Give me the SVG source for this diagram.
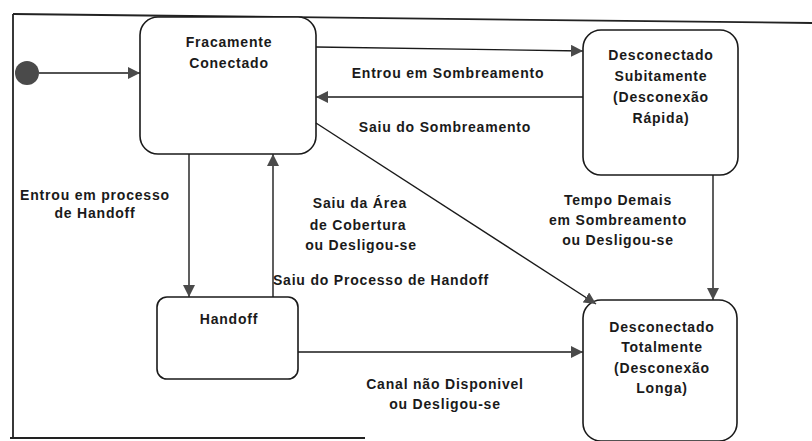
<svg xmlns="http://www.w3.org/2000/svg" width="812" height="441" viewBox="0 0 812 441">
<style>
.node{fill:#fff;stroke:#1a1a1a;stroke-width:1.6}
.conn{fill:none;stroke:#1a1a1a;stroke-width:1.4}
.frame{fill:none;stroke:#222;stroke-width:1.8}
text{font-family:"Liberation Sans",Arial,sans-serif;font-weight:bold;font-size:14px;letter-spacing:0.8px;fill:#1a1a1a;text-anchor:middle}
</style>
<defs>
<marker id="arr" viewBox="0 0 12 12" refX="12" refY="6" markerWidth="12" markerHeight="12" markerUnits="userSpaceOnUse" orient="auto">
<path d="M0,0 L12,6 L0,12 z" fill="#4a4a4a"/>
</marker>
</defs>
<rect width="812" height="441" fill="#fff"/>
<g id="frame">
<path class="frame" d="M13,14 L812,23"/>
<path class="frame" d="M13,14 L13,438"/>
<path class="frame" d="M10,438 L365,438"/>
</g>
<g id="initial">
<circle cx="27" cy="73" r="12" fill="#4a4a4a"/>
</g>
<g id="fracamente">
<rect class="node" x="140" y="17" width="176" height="137" rx="18"/>
<text x="229" y="47">Fracamente</text>
<text x="229" y="68">Conectado</text>
</g>
<g id="subitamente">
<rect class="node" x="583" y="30" width="155" height="145" rx="18"/>
<text x="661" y="60">Desconectado</text>
<text x="661" y="81">Subitamente</text>
<text x="661" y="102">(Desconexão</text>
<text x="661" y="123">Rápida)</text>
</g>
<g id="handoff">
<rect class="node" x="157" y="297" width="141" height="82" rx="10"/>
<text x="229" y="324">Handoff</text>
</g>
<g id="totalmente">
<rect class="node" x="583" y="300" width="154" height="141" rx="18"/>
<text x="662" y="332">Desconectado</text>
<text x="662" y="352">Totalmente</text>
<text x="662" y="373">(Desconexão</text>
<text x="662" y="393">Longa)</text>
</g>
<g id="connectors">
<path class="conn" d="M39,73 L140,73" marker-end="url(#arr)"/>
<path class="conn" d="M316,47 L583,51" marker-end="url(#arr)"/>
<path class="conn" d="M583,97 L316,97" marker-end="url(#arr)"/>
<path class="conn" d="M316,123 L596,304" marker-end="url(#arr)"/>
<path class="conn" d="M189,154 L189,297" marker-end="url(#arr)"/>
<path class="conn" d="M273,297 L273,154" marker-end="url(#arr)"/>
<path class="conn" d="M298,352 L583,352" marker-end="url(#arr)"/>
<path class="conn" d="M713,175 L713,300" marker-end="url(#arr)"/>
</g>
<g id="labels">
<text x="448" y="78">Entrou em Sombreamento</text>
<text x="445" y="132">Saiu do Sombreamento</text>
<text x="95" y="200">Entrou em processo</text>
<text x="95" y="218">de Handoff</text>
<text x="360" y="208">Saiu da Área</text>
<text x="358" y="230">de Cobertura</text>
<text x="361" y="250">ou Desligou-se</text>
<text x="381" y="285">Saiu do Processo de Handoff</text>
<text x="618" y="205">Tempo Demais</text>
<text x="618" y="225">em Sombreamento</text>
<text x="618" y="245">ou Desligou-se</text>
<text x="445" y="389">Canal não Disponivel</text>
<text x="445" y="409">ou Desligou-se</text>
</g>
</svg>
